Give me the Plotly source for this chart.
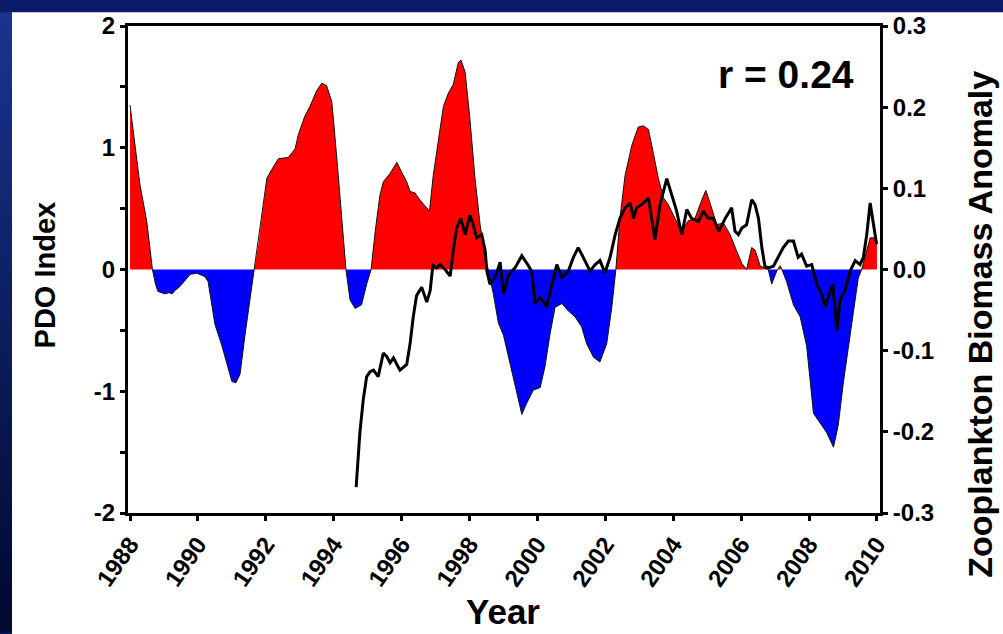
import plotly.graph_objects as go

# ---- PDO index (smoothed), left axis ----
pdo_years = [1988.00, 1988.15, 1988.29, 1988.49, 1988.66, 1988.75, 1988.82, 1989.03, 1989.15, 1989.24,
             1989.33, 1989.47, 1989.62, 1989.77, 1989.97, 1990.11, 1990.21, 1990.30, 1990.40, 1990.50,
             1990.70, 1990.85, 1991.00, 1991.12, 1991.24, 1991.39, 1991.53, 1991.66, 1991.78, 1991.93,
             1992.03, 1992.17, 1992.37, 1992.66, 1992.86, 1992.96, 1993.15, 1993.30, 1993.50, 1993.65,
             1993.79, 1993.94, 1993.99, 1994.14, 1994.28, 1994.36, 1994.48, 1994.63, 1994.82, 1994.97,
             1995.10, 1995.22, 1995.36, 1995.46, 1995.66, 1995.86, 1996.00, 1996.15, 1996.25, 1996.39,
             1996.54, 1996.69, 1996.82, 1996.93, 1997.08, 1997.23, 1997.38, 1997.52, 1997.67, 1997.75,
             1997.87, 1998.01, 1998.16, 1998.31, 1998.46, 1998.55, 1998.70, 1998.85, 1999.00, 1999.19,
             1999.34, 1999.54, 1999.68, 1999.88, 2000.08, 2000.22, 2000.37, 2000.52, 2000.72, 2000.91,
             2001.11, 2001.30, 2001.45, 2001.65, 2001.84, 2002.04, 2002.19, 2002.31, 2002.43, 2002.58,
             2002.78, 2002.97, 2003.12, 2003.27, 2003.41, 2003.56, 2003.71, 2003.86, 2004.05, 2004.25,
             2004.44, 2004.64, 2004.84, 2004.96, 2005.08, 2005.28, 2005.48, 2005.67, 2005.87, 2006.02,
             2006.16, 2006.31, 2006.41, 2006.56, 2006.70, 2006.80, 2006.90, 2007.05, 2007.15, 2007.20,
             2007.34, 2007.54, 2007.74, 2007.93, 2008.13, 2008.32, 2008.52, 2008.72, 2008.86, 2009.01,
             2009.21, 2009.36, 2009.45, 2009.55, 2009.70, 2009.80, 2010.00]
pdo_index = [1.35, 1.02, 0.70, 0.40, 0.00, -0.12, -0.18, -0.20, -0.19, -0.20,
             -0.17, -0.14, -0.09, -0.04, -0.03, -0.05, -0.06, -0.10, -0.28, -0.45,
             -0.62, -0.77, -0.92, -0.93, -0.86, -0.53, -0.25, 0.00, 0.21, 0.53,
             0.75, 0.82, 0.91, 0.92, 0.99, 1.11, 1.26, 1.34, 1.47, 1.53,
             1.51, 1.38, 1.24, 0.75, 0.29, 0.00, -0.25, -0.32, -0.29, -0.12,
             0.00, 0.31, 0.61, 0.72, 0.79, 0.88, 0.80, 0.72, 0.64, 0.63,
             0.57, 0.52, 0.48, 0.77, 1.05, 1.34, 1.45, 1.52, 1.70, 1.72,
             1.62, 1.24, 0.75, 0.37, 0.10, 0.00, -0.20, -0.44, -0.54, -0.77,
             -0.93, -1.19, -1.10, -0.99, -0.97, -0.80, -0.53, -0.31, -0.28, -0.34,
             -0.39, -0.47, -0.61, -0.72, -0.76, -0.61, -0.31, 0.00, 0.42, 0.77,
             1.02, 1.17, 1.18, 1.15, 0.96, 0.75, 0.59, 0.53, 0.42, 0.31,
             0.40, 0.42, 0.57, 0.65, 0.55, 0.37, 0.38, 0.29, 0.15, 0.05,
             0.00, 0.18, 0.16, 0.03, 0.01, 0.00, -0.12, -0.01, 0.03, 0.00,
             -0.10, -0.29, -0.39, -0.63, -1.18, -1.26, -1.34, -1.46, -1.28, -0.93,
             -0.53, -0.23, -0.07, 0.00, 0.15, 0.26, 0.26]

# ---- Zooplankton biomass anomaly, right axis ----
zoo_years = [1994.66, 1994.77, 1994.87, 1994.97, 1995.07, 1995.17, 1995.31, 1995.46, 1995.56, 1995.66,
             1995.76, 1995.95, 1996.15, 1996.25, 1996.34, 1996.44, 1996.59, 1996.74, 1996.84, 1996.92,
             1997.03, 1997.13, 1997.28, 1997.43, 1997.52, 1997.62, 1997.74, 1997.87, 1998.01, 1998.11,
             1998.21, 1998.36, 1998.46, 1998.51, 1998.60, 1998.75, 1998.90, 1999.00, 1999.14, 1999.24,
             1999.34, 1999.54, 1999.73, 1999.83, 1999.93, 2000.08, 2000.27, 2000.42, 2000.57, 2000.72,
             2000.91, 2001.06, 2001.20, 2001.35, 2001.55, 2001.70, 2001.84, 2001.99, 2002.14, 2002.29,
             2002.43, 2002.58, 2002.73, 2002.83, 2002.92, 2003.07, 2003.27, 2003.46, 2003.61, 2003.81,
             2003.96, 2004.10, 2004.25, 2004.40, 2004.54, 2004.74, 2004.89, 2005.03, 2005.18, 2005.34,
             2005.53, 2005.72, 2005.82, 2005.92, 2006.02, 2006.16, 2006.31, 2006.41, 2006.51, 2006.61,
             2006.70, 2006.80, 2006.95, 2007.10, 2007.24, 2007.39, 2007.54, 2007.68, 2007.78, 2007.93,
             2008.08, 2008.23, 2008.37, 2008.47, 2008.57, 2008.70, 2008.82, 2008.91, 2009.06, 2009.21,
             2009.36, 2009.50, 2009.60, 2009.70, 2009.80, 2009.89, 2009.99]
zoo_anomaly = [-0.268, -0.201, -0.160, -0.132, -0.126, -0.124, -0.132, -0.103, -0.107, -0.115,
               -0.109, -0.124, -0.117, -0.091, -0.059, -0.032, -0.022, -0.040, -0.026, 0.005,
               0.002, 0.006, 0.000, -0.008, 0.023, 0.051, 0.063, 0.043, 0.067, 0.055,
               0.039, 0.043, 0.023, -0.002, -0.018, -0.010, 0.009, -0.030, -0.008, -0.002,
               0.002, 0.017, 0.005, -0.002, -0.042, -0.034, -0.046, -0.018, 0.006, -0.010,
               -0.002, 0.015, 0.027, 0.015, -0.002, 0.006, 0.011, -0.004, 0.015, 0.043,
               0.063, 0.076, 0.082, 0.063, 0.076, 0.080, 0.088, 0.037, 0.080, 0.112,
               0.092, 0.072, 0.043, 0.074, 0.063, 0.059, 0.072, 0.063, 0.063, 0.047,
               0.063, 0.076, 0.047, 0.043, 0.051, 0.055, 0.086, 0.080, 0.063, 0.027,
               0.004, 0.002, 0.004, 0.015, 0.027, 0.035, 0.035, 0.015, 0.019, 0.004,
               0.006, -0.018, -0.030, -0.046, -0.034, -0.018, -0.075, -0.038, -0.026, -0.002,
               0.011, 0.006, 0.015, 0.043, 0.082, 0.055, 0.031]

# ---- tick labels ----
year_ticks = [1988, 1990, 1992, 1994, 1996, 1998, 2000, 2002, 2004, 2006, 2008, 2010]
year_labels = ["1988", "1990", "1992", "1994", "1996", "1998", "2000", "2002", "2004", "2006", "2008", "2010"]
pdo_ticks = [-2, -1, 0, 1, 2]
pdo_labels = ["-2", "-1", "0", "1", "2"]
zoo_ticks = [-0.3, -0.2, -0.1, 0.0, 0.1, 0.2, 0.3]
zoo_labels = ["-0.3", "-0.2", "-0.1", "0.0", "0.1", "0.2", "0.3"]
corr_label = "r = 0.24"


def with_zero_crossings(xs, ys):
    """Insert linearly interpolated zero points so fills split cleanly at y=0."""
    out_x, out_y = [xs[0]], [ys[0]]
    for i in range(1, len(xs)):
        x0, y0, x1, y1 = xs[i - 1], ys[i - 1], xs[i], ys[i]
        if (y0 > 0 > y1) or (y0 < 0 < y1):
            xc = x0 + (x1 - x0) * (0 - y0) / (y1 - y0)
            out_x.append(xc)
            out_y.append(0.0)
        out_x.append(x1)
        out_y.append(y1)
    return out_x, out_y


fx, fy = with_zero_crossings(pdo_years, pdo_index)
pos = [max(v, 0.0) for v in fy]
neg = [min(v, 0.0) for v in fy]

FONT = "Liberation Sans, Arial, Helvetica, sans-serif"

fig = go.Figure()
fig.add_trace(go.Scatter(x=fx, y=pos, mode="lines", fill="tozeroy", fillcolor="#ff0000",
                         line=dict(width=0, color="#ff0000"), hoverinfo="skip", showlegend=False))
fig.add_trace(go.Scatter(x=fx, y=neg, mode="lines", fill="tozeroy", fillcolor="#0000ff",
                         line=dict(width=0, color="#0000ff"), hoverinfo="skip", showlegend=False))
fig.add_trace(go.Scatter(x=pdo_years, y=pdo_index, mode="lines",
                         line=dict(width=1, color="#111111"), name="PDO", showlegend=False))
fig.add_trace(go.Scatter(x=zoo_years, y=zoo_anomaly, mode="lines", yaxis="y2",
                         line=dict(width=3, color="black"), name="Zooplankton", showlegend=False))

# plot area geometry in pixels
W, H = 1003, 634
L, R, T, B = 128, 880, 19, 513


def px_x(p):
    return (p - L) / (R - L)


def px_y(p):
    return (B - p) / (B - T)


shapes = [
    # white panel behind the chart
    dict(type="rect", xref="paper", yref="paper", x0=px_x(12), x1=px_x(W + 20),
         y0=px_y(H + 20), y1=px_y(5), fillcolor="white", line=dict(width=0), layer="below"),
]
# left border strip, shading from blue to dark navy
n = 40
top_c = (0x1a, 0x33, 0x8e)
bot_c = (0x00, 0x09, 0x30)
for i in range(n):
    t = i / (n - 1)
    c = tuple(round(top_c[k] + (bot_c[k] - top_c[k]) * t) for k in range(3))
    y0p = 5 + (H - 5) * i / n
    y1p = 5 + (H - 5) * (i + 1) / n
    shapes.append(dict(type="rect", xref="paper", yref="paper", x0=px_x(-5), x1=px_x(12),
                       y0=px_y(y1p + 0.5), y1=px_y(y0p), fillcolor="rgb(%d,%d,%d)" % c,
                       line=dict(width=0), layer="below"))

axis_common = dict(showline=True, linecolor="black", linewidth=3, ticks="outside",
                   tickcolor="black", tickwidth=2.5, ticklen=5, showgrid=False, zeroline=False)

fig.update_layout(
    width=W, height=H,
    margin=dict(l=L, r=W - R, t=T, b=H - B, pad=0),
    paper_bgcolor="#0c1c6b",
    plot_bgcolor="white",
    showlegend=False,
    shapes=shapes,
    xaxis=dict(range=[1987.94, 2010.09], tickmode="array", tickvals=year_ticks, ticktext=year_labels,
               tickangle=-55, mirror=True,
               tickfont=dict(family=FONT, size=24, color="black", weight="bold"), **axis_common),
    yaxis=dict(range=[-2, 2], tickmode="array", tickvals=pdo_ticks, ticktext=pdo_labels,
               minor=dict(ticks="outside", dtick=0.5, tick0=0, ticklen=5, tickwidth=2.5, tickcolor="black"),
               tickfont=dict(family=FONT, size=24, color="black", weight="bold"), **axis_common),
    yaxis2=dict(range=[-0.3, 0.3], overlaying="y", side="right", tickmode="array",
                tickvals=zoo_ticks, ticktext=zoo_labels,
                tickfont=dict(family=FONT, size=24, color="black", weight="bold"), **axis_common),
    annotations=[
        dict(text=corr_label, xref="paper", yref="paper", x=px_x(856), y=px_y(68),
             xanchor="right", yanchor="middle", showarrow=False,
             font=dict(family=FONT, size=39, color="black", weight="bold")),
        dict(text="PDO Index", xref="paper", yref="paper", x=px_x(45), y=px_y(272),
             xanchor="center", yanchor="middle", textangle=-90, showarrow=False,
             font=dict(family=FONT, size=29, color="black", weight="bold")),
        dict(text="Year", xref="paper", yref="paper", x=px_x(503), y=px_y(613),
             xanchor="center", yanchor="middle", showarrow=False,
             font=dict(family=FONT, size=35, color="black", weight="bold")),
        dict(text="Zooplankton Biomass Anomaly", xref="paper", yref="paper", x=px_x(980), y=px_y(322),
             xanchor="center", yanchor="middle", textangle=-90, showarrow=False,
             font=dict(family=FONT, size=34, color="black", weight="bold")),
    ],
)

fig.write_html("out.html")
